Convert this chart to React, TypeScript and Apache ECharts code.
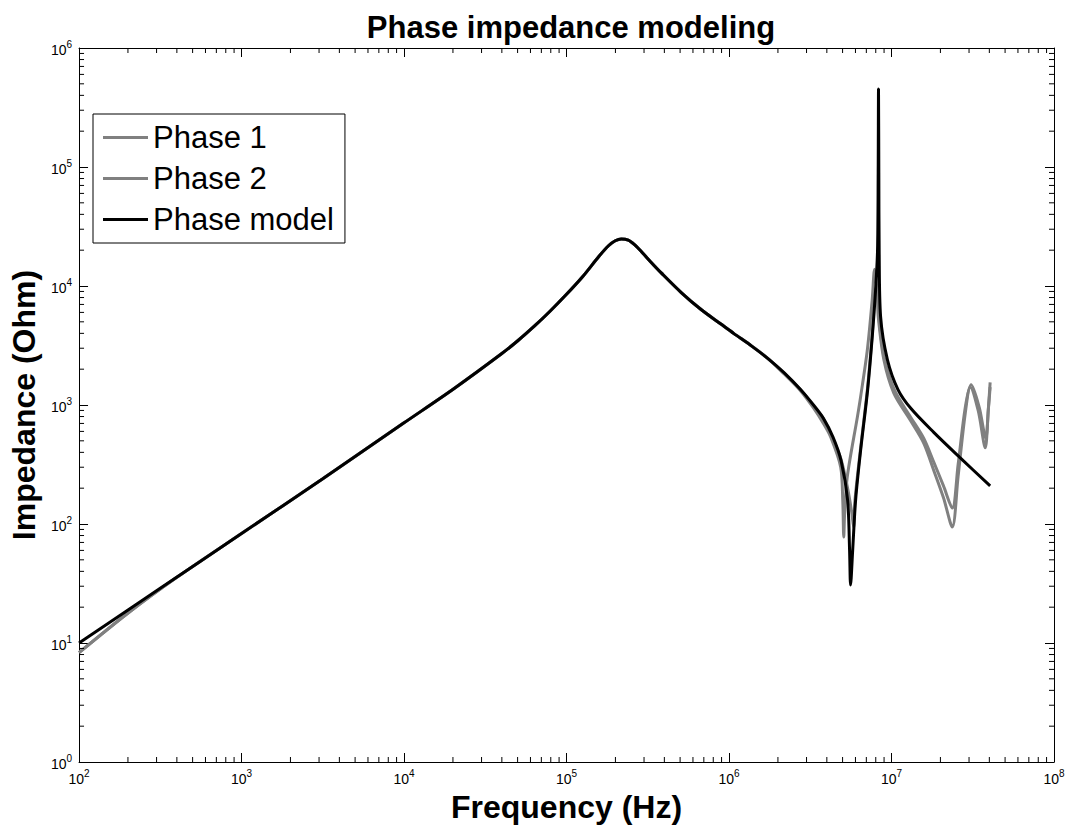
import React, { useEffect, useRef } from "react";
import * as echarts from "echarts";

// Measured impedance magnitude, phase 1 (Hz, Ohm)
const freqPhase1 = [
  100, 199.5, 398, 1000, 3162, 10000, 19950, 39810, 50120, 63100, 79430, 100000,
  125900, 158500, 182000, 199500, 217300, 239900, 263000, 288400, 331100, 382800,
  508200, 676100, 891300, 1072000, 1380000, 1738000, 2188000, 2754000, 3311000,
  3828000, 4227000, 4864000, 5012000, 5082000, 5152000, 5346000, 6166000, 6457000,
  7096000, 7603000, 7870000, 8166000, 8290000, 8974000, 10330000, 13090000,
  15780000, 18200000, 20890000, 23660000, 25700000, 28440000, 30550000, 34200000,
  37760000, 39360000, 40460000,
];
const zPhase1 = [
  8.3, 17.8, 35.5, 83.2, 240, 708, 1349, 2692, 3467, 4571, 6166, 8511,
  12020, 17780, 21880, 23990, 24830, 24270, 22130, 19500, 15850, 12880,
  8810, 6310, 4786, 3981, 3126, 2455, 1820, 1318, 944,
  692, 537, 302, 158, 77.6, 126, 251, 794, 1175,
  2884, 7586, 13800, 8710, 5495, 2399, 1259, 741,
  479, 282, 166, 94.4, 251, 851, 1413, 891,
  437, 891, 1549,
];

// Measured impedance magnitude, phase 2 (Hz, Ohm)
const freqPhase2 = [
  100, 199.5, 398, 1000, 3162, 10000, 19950, 39810, 50120, 63100, 79430, 100000,
  125900, 158500, 182000, 199500, 217300, 239900, 263000, 288400, 331100, 382800,
  508200, 676100, 891300, 1072000, 1380000, 1738000, 2188000, 2754000, 3311000,
  3828000, 4406000, 4898000, 5370000, 5689000, 5848000, 5957000, 6457000, 7129000,
  7638000, 7980000, 8166000, 8414000, 9016000, 10470000, 13090000, 15780000,
  18200000, 20890000, 23660000, 25700000, 28440000, 30900000, 34670000, 38020000,
  39540000, 40460000,
];
const zPhase2 = [
  8.3, 17.8, 35.5, 83.2, 240, 708, 1349, 2692, 3467, 4571, 6166, 8511,
  12020, 17780, 21880, 23990, 24830, 24270, 22130, 19500, 15850, 12880,
  8810, 6310, 4786, 3981, 3126, 2455, 1841, 1349, 977,
  759, 501, 347, 200, 126, 94.4, 158, 437, 1413,
  4169, 9550, 8913, 5012, 2512, 1318, 794, 525,
  331, 209, 136, 316, 955, 1479, 955, 525,
  955, 1413,
];

// Fitted phase model (Hz, Ohm)
const freqModel = [
  100, 316, 1000, 3162, 10000, 19950, 39810, 50120, 63100, 79430, 100000, 125900,
  158500, 182000, 199500, 217300, 239900, 263000, 288400, 331100, 382800, 508200,
  676100, 891300, 1072000, 1380000, 1738000, 2188000, 2754000, 3311000, 3802000,
  4365000, 4898000, 5370000, 5521000, 5598000, 5768000, 6012000, 6457000, 7129000,
  7638000, 7980000, 8204000, 8279000, 8318000, 8356000, 8395000, 8570000, 9441000,
  10960000, 13180000, 18200000, 26300000, 40460000,
];
const zModel = [
  10, 28.8, 83.2, 240, 708, 1349, 2692, 3467, 4571, 6166, 8511, 12020,
  17780, 21880, 23990, 24830, 24270, 22130, 19500, 15850, 12880, 8810,
  6310, 4786, 3981, 3126, 2455, 1862, 1349, 1000, 776,
  537, 339, 158, 60, 30.7, 60, 158, 417, 1337,
  3981, 9247, 19950, 89130, 451900, 89130, 19950, 5495, 2399,
  1349, 933, 589, 363, 209,
];

const seriesNames = ["Phase 1", "Phase 2", "Phase model"];
const seriesColors = ["#808080", "#808080", "#000000"];

// Axis decades (powers of ten)
const xDecadeExponents = [2, 3, 4, 5, 6, 7];
const yDecadeExponents = [0, 1, 2, 3, 4, 5];
const minorMultipliers = [2, 3, 4, 5, 6, 7, 8, 9];

const FONT = "'Liberation Sans', Arial, Helvetica, sans-serif";

function pairs(f: number[], z: number[]) {
  return f.map((v, i) => [v, z[i]]);
}

function minorValues(exps: number[]) {
  const out: number[] = [];
  exps.forEach((e) => minorMultipliers.forEach((m) => out.push(m * Math.pow(10, e))));
  return out;
}

const powLabel = (v: number) => `{b|10}{s|${Math.round(Math.log10(v))}}`;
const labelRich = {
  b: { fontSize: 14, color: "#000", fontFamily: FONT, verticalAlign: "bottom" },
  s: { fontSize: 10, color: "#000", fontFamily: FONT, verticalAlign: "bottom", padding: [0, 0, 8, 0] },
};

export default function App() {
  const ref = useRef<HTMLDivElement>(null);

  useEffect(() => {
    document.body.style.margin = "0";
    if (!ref.current) return;
    const chart = echarts.init(ref.current, undefined, { renderer: "svg" });

    const tickStyle = { stroke: "#000", lineWidth: 1 };
    const minorLen = 5;

    const axisCommon = {
      type: "log" as const,
      logBase: 10,
      axisLine: { show: true, lineStyle: { color: "#000", width: 1 } },
      axisTick: { show: true, inside: true, length: 9, lineStyle: { color: "#000", width: 1 } },
      splitLine: { show: false },
      minorTick: { show: false },
    };

    const option: any = {
      animation: false,
      textStyle: { fontFamily: FONT },
      title: {
        text: "Phase impedance modeling",
        left: 566,
        top: 7,
        textAlign: "center",
        textStyle: { fontSize: 31, fontWeight: "bold", color: "#000", fontFamily: FONT },
      },
      legend: {
        data: seriesNames,
        orient: "vertical",
        left: 93,
        top: 114,
        backgroundColor: "#fff",
        borderColor: "#000",
        borderWidth: 1,
        borderRadius: 0,
        padding: [8, 11, 8, 10],
        itemGap: 10,
        itemWidth: 45,
        itemHeight: 3,
        icon: "rect",
        textStyle: { fontSize: 31, color: "#000", fontFamily: FONT, lineHeight: 31 },
      },
      grid: { left: 76, right: 17, top: 48, bottom: 68, containLabel: false },
      xAxis: [
        {
          ...axisCommon,
          min: 100,
          max: 1e8,
          position: "bottom",
          axisLabel: { formatter: powLabel, rich: labelRich, margin: 6 },
          name: "Frequency (Hz)",
          nameLocation: "middle",
          nameGap: 20,
          nameTextStyle: { fontSize: 32, fontWeight: "bold", color: "#000", fontFamily: FONT },
        },
        {
          ...axisCommon,
          min: 100,
          max: 1e8,
          position: "top",
          axisLabel: { show: false },
        },
      ],
      yAxis: [
        {
          ...axisCommon,
          min: 1,
          max: 1e6,
          position: "left",
          axisLabel: { formatter: powLabel, rich: labelRich, margin: 7 },
          name: "Impedance (Ohm)",
          nameLocation: "middle",
          nameGap: 31,
          nameTextStyle: { fontSize: 32, fontWeight: "bold", color: "#000", fontFamily: FONT },
        },
        {
          ...axisCommon,
          min: 1,
          max: 1e6,
          position: "right",
          axisLabel: { show: false },
        },
      ],
      series: [
        ...[pairs(freqPhase1, zPhase1), pairs(freqPhase2, zPhase2), pairs(freqModel, zModel)].map(
          (data, i) => ({
            name: seriesNames[i],
            type: "line",
            data,
            xAxisIndex: 0,
            yAxisIndex: 0,
            symbol: "none",
            showSymbol: false,
            smooth: 0.3,
            lineStyle: { color: seriesColors[i], width: 3 },
            itemStyle: { color: seriesColors[i] },
            z: 2 + i,
          })
        ),
        {
          type: "custom",
          name: "xMinor",
          xAxisIndex: 0,
          yAxisIndex: 0,
          silent: true,
          clip: false,
          data: minorValues(xDecadeExponents).map((v) => [v, 1]),
          renderItem: (params: any, api: any) => {
            const p = api.coord([api.value(0), 1]);
            const cs = params.coordSys;
            const top = cs.y;
            const bottom = cs.y + cs.height;
            return {
              type: "group",
              children: [
                { type: "line", shape: { x1: p[0], y1: bottom, x2: p[0], y2: bottom - minorLen }, style: tickStyle },
                { type: "line", shape: { x1: p[0], y1: top, x2: p[0], y2: top + minorLen }, style: tickStyle },
              ],
            };
          },
          z: 10,
        },
        {
          type: "custom",
          name: "yMinor",
          xAxisIndex: 0,
          yAxisIndex: 0,
          silent: true,
          clip: false,
          data: minorValues(yDecadeExponents).map((v) => [100, v]),
          renderItem: (params: any, api: any) => {
            const p = api.coord([100, api.value(1)]);
            const cs = params.coordSys;
            const left = cs.x;
            const right = cs.x + cs.width;
            return {
              type: "group",
              children: [
                { type: "line", shape: { x1: left, y1: p[1], x2: left + minorLen, y2: p[1] }, style: tickStyle },
                { type: "line", shape: { x1: right, y1: p[1], x2: right - minorLen, y2: p[1] }, style: tickStyle },
              ],
            };
          },
          z: 10,
        },
      ],
    };

    chart.setOption(option);
    return () => chart.dispose();
  }, []);

  return <div ref={ref} style={{ width: 1071, height: 830 }} />;
}
